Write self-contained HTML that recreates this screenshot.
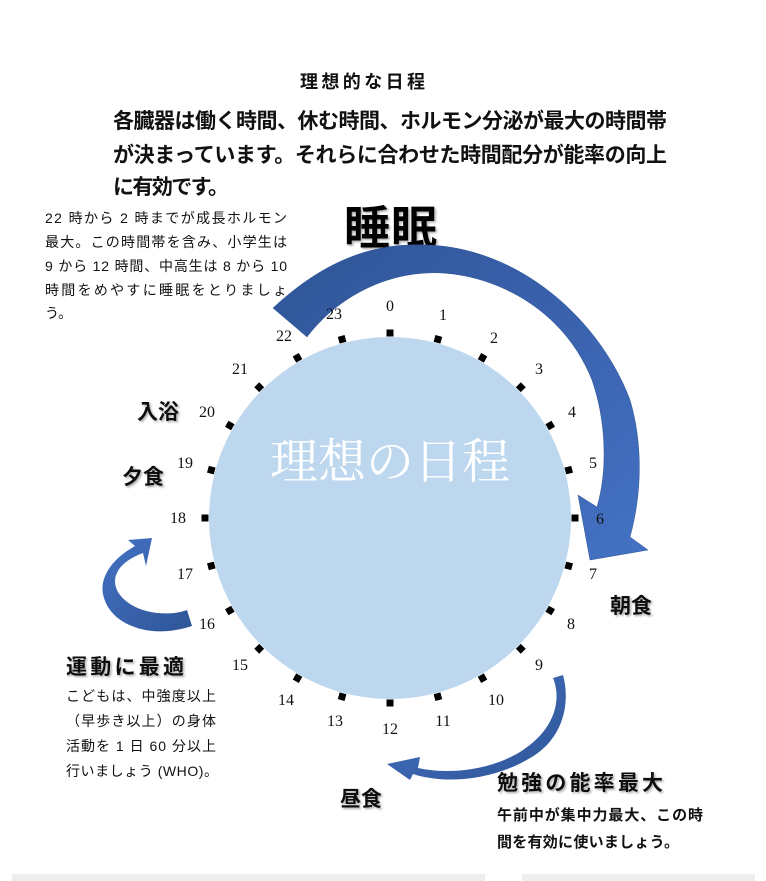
<!DOCTYPE html>
<html><head><meta charset="utf-8"><style>
html,body{margin:0;padding:0;background:#fff;width:766px;height:881px;overflow:hidden}
svg{display:block}
.j{font-family:"Liberation Sans","Noto Sans CJK JP",sans-serif}
.b{font-weight:bold}
.n{font-family:"Liberation Serif","Noto Serif CJK SC",serif;font-size:16px;fill:#111}
.lab{font-family:"Liberation Sans","Noto Sans CJK JP",sans-serif;font-weight:bold;font-size:21px;fill:#111;filter:url(#sh)}
</style></head><body>
<svg width="766" height="881" viewBox="0 0 766 881" xmlns="http://www.w3.org/2000/svg">
<defs>
<filter id="sh" x="-10%" y="-10%" width="130%" height="140%"><feDropShadow dx="1.5" dy="1.5" stdDeviation="1" flood-color="#888" flood-opacity="0.7"/></filter>
<linearGradient id="g1" x1="0" y1="0" x2="1" y2="1"><stop offset="0" stop-color="#2f5597"/><stop offset="0.5" stop-color="#3a62ad"/><stop offset="1" stop-color="#4472c4"/></linearGradient>
<linearGradient id="g2" x1="0" y1="0" x2="1" y2="1"><stop offset="0" stop-color="#4472c4"/><stop offset="1" stop-color="#2f5597"/></linearGradient>
</defs>

<rect x="12" y="874" width="473" height="7" fill="#eee"/>
<rect x="522" y="874" width="233" height="7" fill="#eee"/>

<text class="j b" x="300" y="88" font-size="18" textLength="125" fill="#111">理想的な日程</text>
<text class="j b" x="113" y="128" font-size="21" textLength="554" fill="#111">各臓器は働く時間、休む時間、ホルモン分泌が最大の時間帯</text>
<text class="j b" x="113" y="162" font-size="21" textLength="554" fill="#111">が決まっています。それらに合わせた時間配分が能率の向上</text>
<text class="j b" x="113" y="194" font-size="21" textLength="116" fill="#111">に有効です。</text>

<g class="j" font-size="14" fill="#111">
<text x="45" y="223" textLength="242">22 時から 2 時までが成長ホルモン</text>
<text x="45" y="247" textLength="242">最大。この時間帯を含み、小学生は</text>
<text x="45" y="271" textLength="242">9 から 12 時間、中高生は 8 から 10</text>
<text x="45" y="295" textLength="242">時間をめやすに睡眠をとりましょ</text>
<text x="45" y="318">う。</text>
</g>

<text class="j b" x="344" y="244" font-size="46" textLength="93" fill="#000" filter="url(#sh)">睡眠</text>

<circle cx="390" cy="518" r="181" fill="#bdd7ee"/>
<text x="390" y="478" text-anchor="middle" font-family="'Liberation Serif','Noto Serif CJK SC',serif" font-size="48" fill="#fff" textLength="240">理想の日程</text>

<path d="M273,308 C330,255 380,243 427,245 C520,248 600,320 630,400 C642,440 643,490 630,537 L648,550 L590,560 L578,495 L597,507 C608,470 606,420 592,380 C560,300 480,270 427,273 C380,275 335,300 307,337 Z" fill="url(#g1)" stroke="#2f5597" stroke-width="0.5"/>

<path d="M187,610 C165,618 130,612 118,592 C110,578 118,562 143,553 L146,566 L152,538 L128,540 L135,546 C110,560 98,580 104,598 C112,625 150,640 192,626 Z" fill="url(#g2)"/>

<path d="M553,678 C562,700 555,730 520,752 C490,770 450,775 418,768 L420,757 L387,764 L410,780 L413,774 C450,786 500,778 535,755 C565,735 570,700 563,675 Z" fill="url(#g2)"/>

<g class="n">
<text x="390" y="311" text-anchor="middle">0</text>
<text x="443" y="320" text-anchor="middle">1</text>
<text x="494" y="343" text-anchor="middle">2</text>
<text x="539" y="374" text-anchor="middle">3</text>
<text x="572" y="417" text-anchor="middle">4</text>
<text x="593" y="468" text-anchor="middle">5</text>
<text x="600" y="524" text-anchor="middle">6</text>
<text x="593" y="579" text-anchor="middle">7</text>
<text x="571" y="629" text-anchor="middle">8</text>
<text x="539" y="670" text-anchor="middle">9</text>
<text x="496" y="705" text-anchor="middle">10</text>
<text x="443" y="726" text-anchor="middle">11</text>
<text x="390" y="734" text-anchor="middle">12</text>
<text x="335" y="726" text-anchor="middle">13</text>
<text x="286" y="705" text-anchor="middle">14</text>
<text x="240" y="670" text-anchor="middle">15</text>
<text x="207" y="629" text-anchor="middle">16</text>
<text x="185" y="579" text-anchor="middle">17</text>
<text x="178" y="523" text-anchor="middle">18</text>
<text x="185" y="468" text-anchor="middle">19</text>
<text x="207" y="417" text-anchor="middle">20</text>
<text x="240" y="374" text-anchor="middle">21</text>
<text x="284" y="341" text-anchor="middle">22</text>
<text x="334" y="319" text-anchor="middle">23</text>
</g>
<g fill="#000">
<rect x="-3.5" y="-3.5" width="7" height="7" transform="translate(390,333)"/>
<rect x="-3.5" y="-3.5" width="7" height="7" transform="translate(437.9,339.3) rotate(15)"/>
<rect x="-3.5" y="-3.5" width="7" height="7" transform="translate(482.5,357.8) rotate(30)"/>
<rect x="-3.5" y="-3.5" width="7" height="7" transform="translate(520.8,387.2) rotate(45)"/>
<rect x="-3.5" y="-3.5" width="7" height="7" transform="translate(550.2,425.5) rotate(60)"/>
<rect x="-3.5" y="-3.5" width="7" height="7" transform="translate(568.7,470.1) rotate(75)"/>
<rect x="-3.5" y="-3.5" width="7" height="7" transform="translate(575,518)"/>
<rect x="-3.5" y="-3.5" width="7" height="7" transform="translate(568.7,565.9) rotate(15)"/>
<rect x="-3.5" y="-3.5" width="7" height="7" transform="translate(550.2,610.5) rotate(30)"/>
<rect x="-3.5" y="-3.5" width="7" height="7" transform="translate(520.8,648.8) rotate(45)"/>
<rect x="-3.5" y="-3.5" width="7" height="7" transform="translate(482.5,678.2) rotate(60)"/>
<rect x="-3.5" y="-3.5" width="7" height="7" transform="translate(437.9,696.7) rotate(75)"/>
<rect x="-3.5" y="-3.5" width="7" height="7" transform="translate(390,703)"/>
<rect x="-3.5" y="-3.5" width="7" height="7" transform="translate(342.1,696.7) rotate(15)"/>
<rect x="-3.5" y="-3.5" width="7" height="7" transform="translate(297.5,678.2) rotate(30)"/>
<rect x="-3.5" y="-3.5" width="7" height="7" transform="translate(259.2,648.8) rotate(45)"/>
<rect x="-3.5" y="-3.5" width="7" height="7" transform="translate(229.8,610.5) rotate(60)"/>
<rect x="-3.5" y="-3.5" width="7" height="7" transform="translate(211.3,565.9) rotate(75)"/>
<rect x="-3.5" y="-3.5" width="7" height="7" transform="translate(205,518)"/>
<rect x="-3.5" y="-3.5" width="7" height="7" transform="translate(211.3,470.1) rotate(15)"/>
<rect x="-3.5" y="-3.5" width="7" height="7" transform="translate(229.8,425.5) rotate(30)"/>
<rect x="-3.5" y="-3.5" width="7" height="7" transform="translate(259.2,387.2) rotate(45)"/>
<rect x="-3.5" y="-3.5" width="7" height="7" transform="translate(297.5,357.8) rotate(60)"/>
<rect x="-3.5" y="-3.5" width="7" height="7" transform="translate(342.1,339.3) rotate(75)"/>
</g>

<text class="lab" x="137" y="419">入浴</text>
<text class="lab" x="122" y="484">夕食</text>
<text class="lab" x="610" y="613">朝食</text>
<text class="lab" x="66" y="674" font-size="22" textLength="118">運動に最適</text>
<text class="lab" x="340" y="806">昼食</text>
<text class="lab" x="497" y="790" font-size="22" textLength="166">勉強の能率最大</text>

<g class="j" font-size="14" fill="#111">
<text x="66" y="701" textLength="150">こどもは、中強度以上</text>
<text x="66" y="726" textLength="150">（早歩き以上）の身体</text>
<text x="66" y="751" textLength="150">活動を 1 日 60 分以上</text>
<text x="66" y="776" textLength="152">行いましょう (WHO)。</text>
</g>
<g class="j b" font-size="15" fill="#111">
<text x="497" y="820" textLength="206">午前中が集中力最大、この時</text>
<text x="497" y="847" textLength="182">間を有効に使いましょう。</text>
</g>
</svg>
</body></html>
